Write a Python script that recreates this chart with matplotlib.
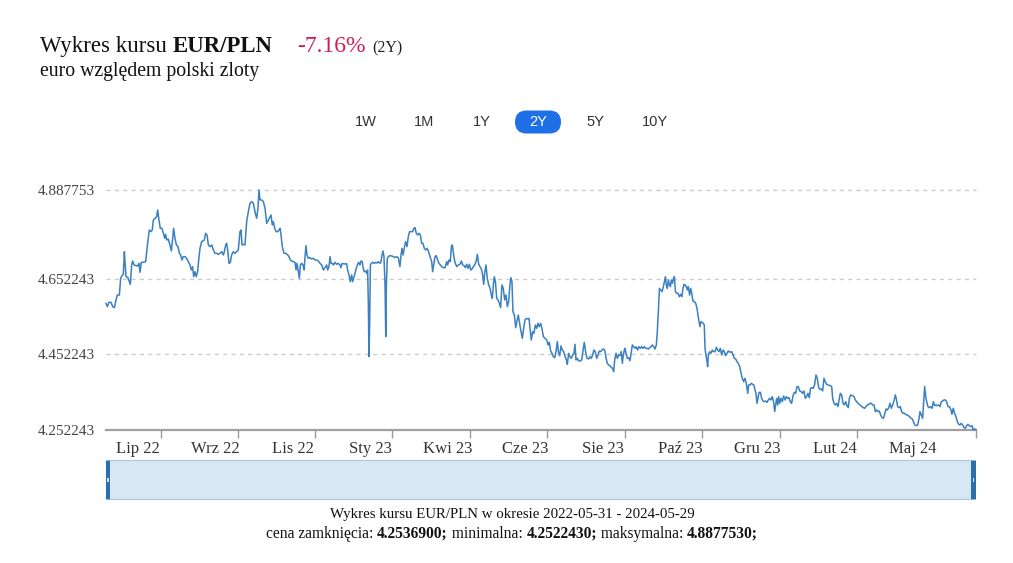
import matplotlib
matplotlib.use("Agg")
import matplotlib.pyplot as plt
from matplotlib.patches import Rectangle, FancyBboxPatch

# EUR/PLN closing rate: days since 2022-05-31 and rate
day = [
    0, 1.1, 2.5, 4.2, 5.6, 7.0, 8.4, 9.5, 11.2, 12.3, 13.4, 14.5, 15.4, 15.9, 16.8, 18.4, 19.6, 20.4, 21.5, 22.4,
    23.5, 25.1, 26.5, 27.7, 28.5, 29.6, 31.3, 33.2, 34.9, 36.3, 37.7, 38.8, 39.7, 41.1, 42.5, 43.3, 44.4, 45.5, 46.9, 48.1,
    49.2, 50.0, 50.9, 52.2, 53.6, 54.8, 55.9, 56.7, 57.8, 59.0, 60.4, 61.5, 62.6, 63.7, 64.8, 66.2, 67.6, 69.0, 70.4, 71.5,
    72.6, 73.5, 74.6, 75.7, 76.8, 77.7, 78.8, 80.2, 81.3, 82.4, 83.5, 84.7, 85.8, 87.2, 88.6, 90.0, 91.4, 92.8, 94.2, 95.6,
    97.0, 98.4, 99.2, 100.3, 101.1, 102.0, 103.1, 104.2, 105.3, 106.7, 108.1, 109.5, 110.9, 112.3, 113.2, 114.0, 115.1, 116.5, 117.9, 119.3,
    120.7, 122.1, 123.5, 125.2, 126.3, 127.4, 128.2, 129.1, 130.5, 131.9, 133.3, 134.7, 136.1, 137.5, 138.3, 139.4, 140.3, 141.4, 142.5, 143.9,
    145.0,
    145.9, 146.7, 147.8, 149.2, 150.9, 152.3, 153.4, 154.5, 155.6, 157.0, 158.4, 159.3, 160.1, 161.2, 162.1, 162.9, 164.0, 165.1, 166.0, 166.8,
    167.6, 168.5, 169.6, 171.0, 172.4, 173.8, 175.2, 176.6, 178.0, 179.4, 180.8, 182.2, 183.6, 185.0, 185.8, 186.9, 187.8, 188.6, 189.7, 190.6,
    192.0, 193.3, 194.7, 196.1, 196.9, 197.8, 198.9, 200.3, 201.7, 202.5, 203.7, 204.8, 205.9, 206.8, 207.9, 208.7, 209.8, 210.9, 211.7, 212.9,
    213.7, 214.8, 215.6, 216.5, 217.6, 218.5, 219.3, 219.9, 220.4, 221.0, 221.6, 222.4, 223.5, 224.9, 226.0, 227.2, 228.3, 229.7, 230.5, 231.4,
    232.2, 233.0, 233.9, 234.5, 235.0, 235.8, 236.7, 238.1, 239.5, 240.9, 242.3, 243.6, 245.0, 246.4, 247.3, 248.1, 249.0, 250.1, 251.2, 252.3,
    253.4, 254.5, 255.6, 257.0, 258.2, 259.0, 260.1, 261.2, 262.4, 263.5, 264.6, 265.7, 266.8, 268.0, 269.1, 270.2, 271.6, 273.0, 273.8, 274.7,
    275.8, 276.9, 278.0, 279.1, 280.3, 281.4, 282.8, 284.2, 285.6, 286.4, 287.5, 288.6, 289.5, 290.3,
    291.4, 292.5, 294.0, 295.3, 296.7, 297.9, 299.0, 300.1, 301.2, 302.3, 303.4, 304.6, 305.7, 306.8, 307.9, 309.0, 310.2, 311.3, 312.4, 313.5,
    314.6, 315.7, 316.6, 317.4, 318.5, 319.6, 320.8, 321.9, 323.0, 323.8, 324.7, 325.5, 326.4, 327.5, 328.6, 329.7, 330.8, 331.9, 333.0, 334.2,
    335.3, 336.4, 337.5, 338.6, 339.4, 340.3, 341.1, 342.3, 343.4, 344.5, 345.6, 346.7, 347.9, 349.0, 350.1, 351.2, 352.3, 353.4, 354.6, 355.4,
    356.5, 357.6, 358.7, 359.9, 361.0, 362.1, 363.2, 364.3, 365.4, 366.6, 368.0, 369.4, 370.5, 371.6, 372.7, 373.8, 375.0, 376.1, 377.2, 378.3,
    379.2, 380.3, 381.4, 382.5, 383.6, 384.8, 385.9, 386.7, 387.8, 388.9, 390.0, 391.2, 392.3, 393.1, 394.0, 395.1, 396.2, 397.3, 398.7, 400.1,
    400.9, 402.0, 403.2, 404.6, 405.7, 406.8, 407.9, 409.0, 410.1, 411.3, 412.4, 413.5, 414.6, 415.8, 416.9, 418.0, 419.1, 420.2, 421.3, 422.5,
    423.6, 424.7, 425.5, 426.4, 427.5, 428.6, 429.7, 430.8, 431.9, 432.8, 433.6, 434.7,
    435.0, 435.9, 437.0, 438.1, 439.2, 440.3, 441.2, 442.3, 443.4, 444.5, 445.6, 446.8, 447.9, 449.0, 450.1, 451.2, 452.4, 453.5, 454.6, 455.7,
    456.8, 458.0, 459.1, 460.2, 461.3, 462.1, 463.0, 463.9, 465.0, 466.1, 467.2, 468.0, 468.9, 469.7, 470.5, 471.4, 472.3, 473.1, 473.9, 474.8,
    475.6, 476.4, 477.3, 478.4, 479.5, 480.6, 481.7, 482.8, 483.6, 484.5, 485.3, 486.4, 487.3, 488.1, 489.2, 490.1, 491.2, 492.0, 493.1, 494.3,
    495.4, 496.2, 497.1, 497.9, 498.7, 499.6, 500.7, 501.5, 502.1, 502.9, 503.8, 504.3, 504.9, 506.0, 507.1, 508.2, 509.3, 510.5, 511.6, 512.7,
    513.8, 514.9, 516.1, 517.2, 518.3, 519.4, 520.5, 521.7, 523.1, 524.5, 525.6, 526.7, 527.8, 528.9, 530.0, 531.2, 532.3, 533.4, 534.5, 535.6,
    536.7, 537.9, 538.7, 539.8, 540.9, 542.0, 543.1, 544.0, 544.8, 545.7, 546.5, 547.4, 548.5, 549.6, 550.7, 551.8, 552.9, 554.0, 555.2, 556.3,
    557.4, 558.5, 559.6, 560.5, 561.3, 562.2, 563.0, 563.9, 564.7, 565.8, 566.9, 568.0, 569.2, 570.3, 571.4, 572.5, 573.6, 574.7, 575.9, 577.0,
    578.1, 579.2, 580.3, 581.5,
    582.8, 583.9, 585.0, 586.2, 587.3, 588.4, 589.5, 590.6, 591.7, 592.9, 594.0, 595.1, 596.2, 597.4, 598.5, 599.6, 600.7, 601.8, 602.9, 604.1,
    605.2, 606.9, 608.3, 609.1, 610.2, 611.3, 612.4, 613.6, 614.7, 615.5, 616.6, 617.8, 618.9, 620.0, 621.1, 622.2, 623.1, 624.2, 625.6, 627.0,
    628.1, 629.2, 630.3, 631.5, 632.6, 633.7, 634.8, 635.9, 637.0, 638.2, 639.3, 640.4, 641.5, 642.6, 643.8, 644.9, 646.0, 647.1, 648.2, 649.3,
    650.5, 651.6, 652.7, 653.8, 654.9, 656.1, 657.2, 658.3, 659.4, 660.5, 661.6, 662.5, 663.6, 664.7, 665.8, 666.9, 668.1, 669.2, 670.3, 671.4,
    672.5, 673.6, 674.8, 675.9, 677.0, 678.1, 679.2, 680.4, 681.5, 682.3, 683.4, 684.5, 685.4, 686.2, 687.1, 687.9, 689.0, 690.1, 691.2, 692.4,
    693.5, 694.6, 695.7, 696.8, 697.9, 699.1, 700.2, 701.3, 702.4, 703.5, 704.6, 705.8, 706.9, 708.0, 709.1, 710.2, 711.3, 712.5, 713.6, 714.7,
    715.8, 716.9, 718.1, 719.2, 720.3, 721.4, 722.5, 723.6, 724.8, 725.9, 727.0, 728.1, 729.0,
]
rate = [
    4.5877, 4.5788, 4.5903, 4.5903, 4.5788, 4.5762, 4.5965, 4.6097, 4.6097, 4.6539, 4.6609, 4.6645, 4.7245, 4.6980, 4.6583, 4.6556, 4.6450, 4.6380, 4.6892, 4.6998,
    4.6892, 4.6874, 4.6865, 4.6936, 4.6697, 4.6962, 4.6962, 4.6980, 4.7466, 4.7819, 4.7775, 4.7819, 4.8084, 4.8128, 4.8172, 4.8349, 4.8084, 4.7863, 4.7863, 4.7731,
    4.7598, 4.7704, 4.7554, 4.7581, 4.7422, 4.7263, 4.7598, 4.7863, 4.7598, 4.7422, 4.7377, 4.7201, 4.7157, 4.7024, 4.7113, 4.7113, 4.7068, 4.6980, 4.6892, 4.6759,
    4.6848, 4.6583, 4.6715, 4.6583, 4.6715, 4.7024, 4.7333, 4.7510, 4.7528, 4.7554, 4.7731, 4.7687, 4.7422, 4.7377, 4.7422, 4.7289, 4.7201, 4.7201, 4.7174, 4.7201,
    4.7245, 4.7157, 4.7245, 4.7422, 4.7466, 4.7289, 4.6936, 4.6954, 4.7157, 4.7245, 4.7201, 4.7245, 4.7289, 4.7775, 4.7819, 4.7422, 4.7440, 4.7422, 4.8040, 4.8305,
    4.8525, 4.8570, 4.8525, 4.8260, 4.8128, 4.8393, 4.8878, 4.8614, 4.8614, 4.8570, 4.8393, 4.7996, 4.8084, 4.8172, 4.8216, 4.7952, 4.8040, 4.7863, 4.7775, 4.7775,
    4.7819,
    4.7863, 4.7687, 4.7377, 4.7201, 4.7201, 4.7157, 4.7113, 4.7024, 4.6998, 4.6980, 4.6962, 4.6759, 4.6936, 4.6715, 4.6539, 4.6892, 4.6936, 4.6892, 4.6759, 4.7068,
    4.7404, 4.7157, 4.7068, 4.7086, 4.7051, 4.7068, 4.7024, 4.7024, 4.6998, 4.6936, 4.6892, 4.6759, 4.6821, 4.6892, 4.6759, 4.6848, 4.7113, 4.6936, 4.6936, 4.6892,
    4.6962, 4.6910, 4.6936, 4.6892, 4.6821, 4.6927, 4.6927, 4.6918, 4.6927, 4.6759, 4.6627, 4.6450, 4.6627, 4.6450, 4.6583, 4.6671, 4.6804, 4.6910, 4.6962, 4.6892,
    4.6998, 4.6980, 4.6804, 4.6715, 4.6733, 4.6671, 4.6759, 4.5877, 4.4465, 4.5303, 4.6892, 4.6936, 4.6962, 4.6936, 4.6962, 4.6945, 4.6980, 4.6936, 4.6980, 4.7157,
    4.7263, 4.7113, 4.6363, 4.4994, 4.6363, 4.7068, 4.7113, 4.7139, 4.7130, 4.7113, 4.7086, 4.7113, 4.7086, 4.6848, 4.7157, 4.7333, 4.7157, 4.7351, 4.7510, 4.7377,
    4.7643, 4.7775, 4.7775, 4.7775, 4.7863, 4.7881, 4.7731, 4.7687, 4.7731, 4.7687, 4.7466, 4.7466, 4.7333, 4.7289, 4.7333, 4.7263, 4.7113, 4.6980, 4.6715, 4.6892,
    4.7113, 4.7139, 4.7024, 4.6936, 4.6892, 4.6848, 4.6821, 4.6821, 4.6980, 4.6892, 4.7024, 4.6980, 4.7377, 4.7422,
    4.7157, 4.6962, 4.6848, 4.6892, 4.6910, 4.6998, 4.6892, 4.6874, 4.6821, 4.6910, 4.6804, 4.6910, 4.6759, 4.6786, 4.6848, 4.6892, 4.6980, 4.7174, 4.6910, 4.6848,
    4.6786, 4.6627, 4.6380, 4.6671, 4.6892, 4.6539, 4.6363, 4.6274, 4.6097, 4.6009, 4.6363, 4.6583, 4.6450, 4.6009, 4.5965, 4.5877, 4.5762, 4.6363, 4.6274, 4.5965,
    4.6097, 4.5788, 4.5921, 4.6363, 4.6556, 4.6450, 4.5656, 4.5568, 4.5233, 4.5409, 4.5568, 4.5347, 4.5126, 4.4950, 4.5215, 4.5435, 4.5479, 4.5462, 4.5479, 4.5215,
    4.4906, 4.5126, 4.5082, 4.5303, 4.5215, 4.5347, 4.5259, 4.5347, 4.5215, 4.4994, 4.4950, 4.4906, 4.4774, 4.4844, 4.4615, 4.4553, 4.4465, 4.4438, 4.4597, 4.4862,
    4.4597, 4.4491, 4.4747, 4.4641, 4.4597, 4.4465, 4.4376, 4.4262, 4.4553, 4.4465, 4.4420, 4.4509, 4.4553, 4.4791, 4.4376, 4.4420, 4.4350, 4.4350, 4.4376, 4.4685,
    4.4844, 4.4597, 4.4420, 4.4403, 4.4465, 4.4420, 4.4509, 4.4641, 4.4597, 4.4420, 4.4509, 4.4615, 4.4597, 4.4641, 4.4667, 4.4641, 4.4438, 4.4288, 4.4244, 4.4226,
    4.4174, 4.4156, 4.4068, 4.4376, 4.4553, 4.4420, 4.4509, 4.4491, 4.4597, 4.4288, 4.4509, 4.4667,
    4.4685, 4.4553, 4.4420, 4.4438, 4.4358, 4.4597, 4.4774, 4.4729, 4.4685, 4.4729, 4.4641, 4.4729, 4.4685, 4.4729, 4.4685, 4.4729, 4.4685, 4.4685, 4.4667, 4.4703,
    4.4729, 4.4774, 4.4729, 4.4667, 4.4774, 4.5127, 4.5656, 4.6274, 4.6230, 4.6186, 4.6319, 4.6450, 4.6583, 4.6363, 4.6274, 4.6495, 4.6363, 4.6319, 4.6495, 4.6406,
    4.6539, 4.6583, 4.6186, 4.6142, 4.6142, 4.6053, 4.6115, 4.6053, 4.6274, 4.6380, 4.6363, 4.6319, 4.6230, 4.6319, 4.6097, 4.6274, 4.6097, 4.5938, 4.5921, 4.5877,
    4.5744, 4.5568, 4.5391, 4.5259, 4.5391, 4.5373, 4.5347, 4.5303, 4.4685, 4.4508, 4.4332, 4.4200, 4.4508, 4.4597, 4.4553, 4.4641, 4.4597, 4.4597, 4.4711, 4.4641,
    4.4597, 4.4685, 4.4508, 4.4641, 4.4597, 4.4491, 4.4553, 4.4615, 4.4580, 4.4597, 4.4508, 4.4420, 4.4403, 4.4332, 4.4288, 4.4200, 4.4024, 4.3891, 4.3803, 4.3891,
    4.3759, 4.3494, 4.3715, 4.3715, 4.3759, 4.3732, 4.3715, 4.3582, 4.3494, 4.3229, 4.3362, 4.3520, 4.3520, 4.3362, 4.3291, 4.3273, 4.3291, 4.3256, 4.3318, 4.3362,
    4.3318, 4.3406, 4.3273, 4.3008, 4.3185, 4.3362, 4.3185, 4.3406, 4.3229, 4.3362, 4.3273, 4.3423, 4.3318, 4.3406, 4.3362, 4.3379, 4.3273, 4.3229, 4.3432, 4.3520,
    4.3494, 4.3671, 4.3671, 4.3556,
    4.3537, 4.3494, 4.3556, 4.3362, 4.3406, 4.3494, 4.3379, 4.3626, 4.3644, 4.3626, 4.3732, 4.3980, 4.3891, 4.3644, 4.3600, 4.3609, 4.3556, 4.3891, 4.3803, 4.3732,
    4.3715, 4.3697, 4.3671, 4.3362, 4.3229, 4.3185, 4.3229, 4.3141, 4.3362, 4.3494, 4.3450, 4.3229, 4.3185, 4.3273, 4.3167, 4.3114, 4.3362, 4.3450, 4.3432, 4.3406,
    4.3318, 4.3273, 4.3229, 4.3202, 4.3167, 4.3141, 4.3114, 4.3097, 4.3141, 4.3185, 4.3202, 4.3229, 4.3229, 4.3185, 4.3185, 4.3008, 4.3052, 4.3008, 4.3026, 4.2920,
    4.2849, 4.2832, 4.2938, 4.3079, 4.3052, 4.3114, 4.3229, 4.3097, 4.3185, 4.3291, 4.3450, 4.3344, 4.3141, 4.3114, 4.3141, 4.3008, 4.2964, 4.2964, 4.2938, 4.2920,
    4.2903, 4.2876, 4.2832, 4.2814, 4.2726, 4.2655, 4.2638, 4.2655, 4.2832, 4.3008, 4.2920, 4.2832, 4.3273, 4.3671, 4.3406, 4.3273, 4.3141, 4.3114, 4.3141, 4.3097,
    4.3273, 4.3167, 4.3185, 4.3167, 4.3185, 4.3141, 4.3273, 4.3291, 4.3318, 4.3318, 4.3273, 4.3141, 4.3141, 4.3079, 4.2938, 4.3097, 4.2964, 4.2876, 4.2744, 4.2673,
    4.2655, 4.2700, 4.2655, 4.2585, 4.2567, 4.2638, 4.2673, 4.2638, 4.2611, 4.2638, 4.2522, 4.2550, 4.2537,
]

y_ticks = [4.252243, 4.452243, 4.652243, 4.887753]
y_tick_labels = ["4.252243", "4.452243", "4.652243", "4.887753"]
month_labels = ["Lip 22", "Wrz 22", "Lis 22", "Sty 23", "Kwi 23", "Cze 23",
                "Sie 23", "Paź 23", "Gru 23", "Lut 24", "Maj 24"]
ranges = ["1W", "1M", "1Y", "2Y", "5Y", "10Y"]
active_range = "2Y"
change = "-7.16%"
close_rate, min_rate, max_rate = "4.2536900", "4.2522430", "4.8877530"

W, H = 1013, 563
SERIF = "Liberation Serif"
SANS = "Liberation Sans"


def fx(px):
    return px / W


def fy(py):
    return 1 - py / H


fig = plt.figure(figsize=(W / 100, H / 100), dpi=100)
fig.patch.set_facecolor("white")

ax = fig.add_axes([fx(106), fy(430), fx(975.7) - fx(106), fy(190) - fy(430)])
ax.plot(day, rate, color="#3b80c0", lw=1.1, clip_on=False, zorder=3)
ax.set_xlim(0, 729)
ax.set_ylim(y_ticks[0], y_ticks[-1])

for v in y_ticks[1:]:
    ax.axhline(v, color="#cccccc", lw=1, ls=(0, (3, 3)), zorder=1, clip_on=False)
ax.set_yticks(y_ticks)
ax.set_yticklabels(y_tick_labels, fontfamily=SERIF, fontsize=11, color="#444444")
ax.tick_params(axis="y", length=0, pad=8)

for s in ["top", "right", "left"]:
    ax.spines[s].set_visible(False)
ax.spines["bottom"].set_color("#a0a0a0")
ax.spines["bottom"].set_linewidth(1.6)

# tick marks and month labels sit at different places on this axis
mark_days = [46.1, 110.7, 175.2, 239.8, 305.1, 369.7, 435.1, 499.6, 565.0, 629.6, 729.0]
label_days = [26.8, 91.4, 156.8, 221.3, 286.7, 351.2, 416.6, 481.2, 545.7, 611.1, 676.5]
ax.set_xticks(mark_days)
ax.set_xticklabels([])
ax.tick_params(axis="x", which="major", length=6, width=1, color="#999999")
ax.set_xticks(label_days, minor=True)
ax.set_xticklabels(month_labels, minor=True, fontfamily=SERIF, fontsize=12, color="#333333")
ax.tick_params(axis="x", which="minor", length=0, pad=8)

renderer = fig.canvas.get_renderer()


def run(parts, x, y, ha="left"):
    ts = [fig.text(fx(x), fy(y), s, va="baseline", **kw) for s, kw in parts]
    widths = [t.get_window_extent(renderer).width for t in ts]
    pos = x - sum(widths) / 2 if ha == "center" else x
    for t, w in zip(ts, widths):
        t.set_x(fx(pos))
        pos += w


# title block
run([("Wykres kursu ", dict(fontfamily=SERIF, fontsize=16.5, color="#111111")),
     ("EUR/PLN", dict(fontfamily=SERIF, fontsize=16.5, fontweight="bold", color="#111111"))], 40, 52)
fig.text(fx(297), fy(52), change, fontfamily=SERIF, fontsize=17, color="#cf1f55", va="baseline")
fig.text(fx(372), fy(52), "(2Y)", fontfamily=SERIF, fontsize=11.5, color="#222222", va="baseline")
fig.text(fx(40), fy(76), "euro względem polski zloty", fontfamily=SERIF, fontsize=14.2,
         color="#111111", va="baseline")

# range buttons
btn_x = [366, 424, 482, 538, 595, 655]
for name, bx in zip(ranges, btn_x):
    if name == active_range:
        fig.patches.append(FancyBboxPatch((fx(bx - 23), fy(133.5)), fx(46), 23 / H,
                                          boxstyle="round,pad=0,rounding_size=0.0113",
                                          transform=fig.transFigure, fc="#1f6fe6", ec="none",
                                          mutation_aspect=W / H))
        col = "white"
    else:
        col = "#333333"
    fig.text(fx(bx), fy(122), name, fontfamily=SANS, fontsize=10.5, color=col,
             ha="center", va="center")

# navigator bar
nav = fig.add_axes([fx(106), fy(500), fx(975.7) - fx(106), 40 / H])
nav.set_xlim(0, 1)
nav.set_ylim(0, 1)
nav.axis("off")
nav.add_patch(Rectangle((0, 0), 1, 1, fc="#d7e7f4", ec="none"))
nav.plot([0, 1], [1, 1], color="#9dc0de", lw=1.2)
nav.plot([0, 1], [0, 1e-9], color="#9dc0de", lw=1.2)
for hx in (0, 1 - 4.5 / 870):
    nav.add_patch(Rectangle((hx, 0), 4.5 / 870, 1, fc="#2d6fae", ec="none"))
    nav.add_patch(Rectangle((hx + 1.5 / 870, 0.45), 1.5 / 870, 0.1, fc="#cfe0ef", ec="none"))

# footer
fig.text(fx(512), fy(518), "Wykres kursu EUR/PLN w okresie 2022-05-31 - 2024-05-29",
         fontfamily=SERIF, fontsize=10.75, color="#111111", ha="center", va="baseline")
norm = dict(fontfamily=SERIF, fontsize=11.2, color="#111111")
bold = dict(fontfamily=SERIF, fontsize=11.2, color="#111111", fontweight="bold")
run([("cena zamknięcia: ", norm), (close_rate + ";", bold), (" minimalna: ", norm),
     (min_rate + ";", bold), (" maksymalna: ", norm), (max_rate + ";", bold)],
    512, 538, ha="center")

fig.savefig("out.png", dpi=100)
